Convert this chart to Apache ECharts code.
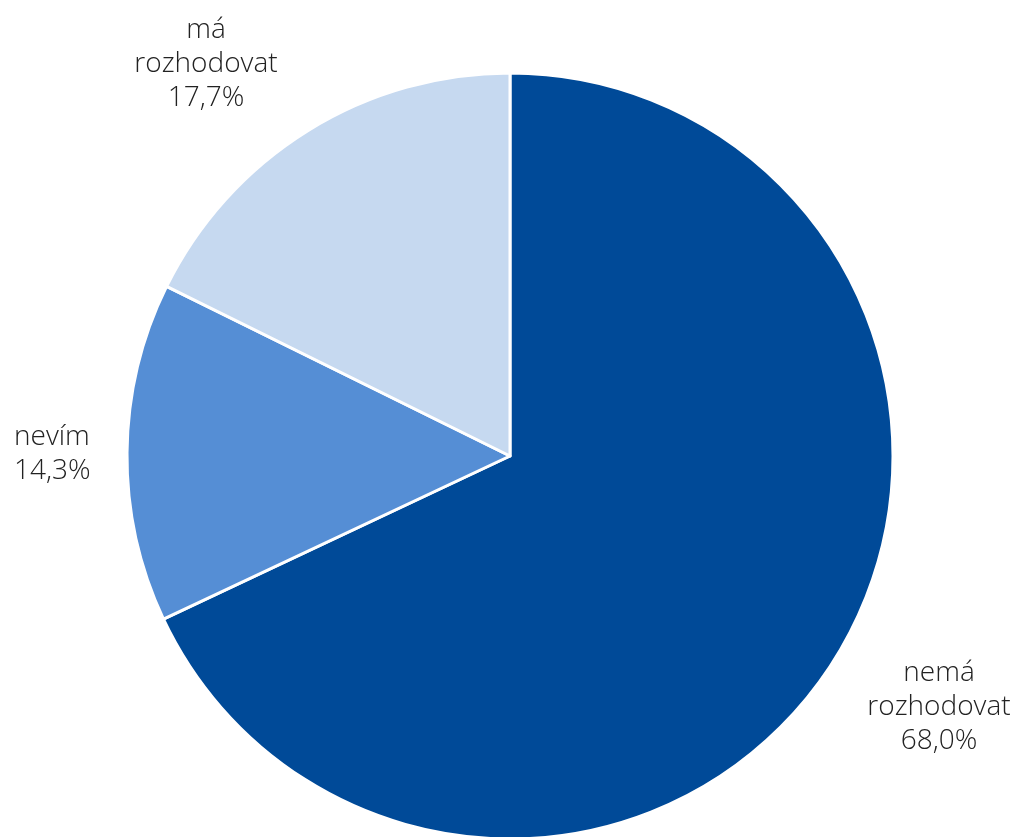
<!DOCTYPE html>
<html><head><meta charset="utf-8">
<script src="https://cdn.jsdelivr.net/npm/echarts@6/dist/echarts.min.js"></script>
<style>html,body{margin:0;padding:0;background:#fff}#c{width:1030px;height:837px}</style>
</head><body><div id="c"></div>
<script>
const categories = ["nemá\nrozhodovat", "nevím", "má\nrozhodovat"];
const values = [68.0, 14.3, 17.7];
const valueLabels = ["68,0%", "14,3%", "17,7%"];
const colors = ["#004A98", "#558ED5", "#C6D9F0"];
const labelPlace = [
  {x: 939, y: 707, align: 'center'},
  {x: 14, y: 454, align: 'left'},
  {x: 206, y: 64, align: 'center'}
];
const chart = echarts.init(document.getElementById('c'));
chart.setOption({
  animation: false,
  series: [{
    type: 'pie',
    center: [510, 456],
    radius: 383,
    startAngle: 90,
    clockwise: true,
    data: categories.map((c, i) => ({name: c, value: values[i], itemStyle: {color: colors[i]}})),
    itemStyle: {borderColor: '#fff', borderWidth: 3},
    labelLine: {show: false},
    label: {
      show: true,
      position: 'outside',
      formatter: p => p.name + '\n' + valueLabels[p.dataIndex],
      fontFamily: 'Open Sans',
      fontWeight: 300,
      fontSize: 28,
      lineHeight: 34,
      color: '#222',
      align: 'center',
      overflow: 'none',
      width: 300
    },
    labelLayout: p => ({x: labelPlace[p.dataIndex].x, y: labelPlace[p.dataIndex].y, align: labelPlace[p.dataIndex].align, verticalAlign: 'middle'})
  }]
});
</script></body></html>
